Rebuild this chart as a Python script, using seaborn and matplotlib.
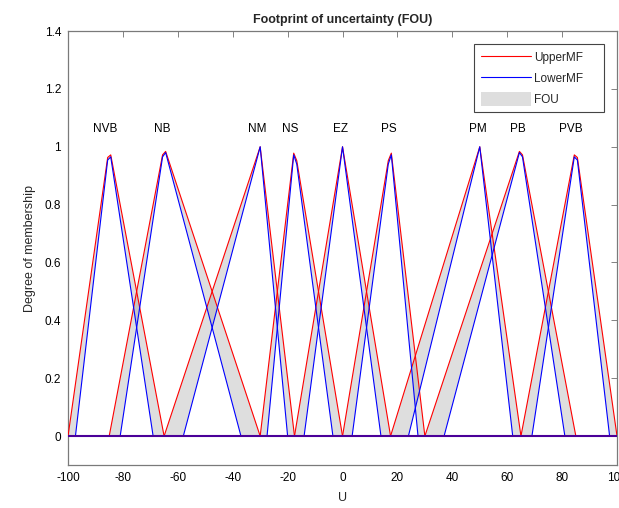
import numpy as np
import pandas as pd
import matplotlib
matplotlib.use("Agg")
import matplotlib.pyplot as plt
import seaborn as sns
from matplotlib.lines import Line2D
from matplotlib.patches import Patch

# ---------------- data ----------------
mf_names = ["NVB", "NB", "NM", "NS", "EZ", "PS", "PM", "PB", "PVB"]

# upper MF: left foot, two top samples, right foot
upper_left = [-100, -85, -65, -30, -17.5, 0, 17.5, 30, 65]
upper_right = [-65, -30, -17.5, 0, 17.5, 30, 65, 85, 100]
top_x_left = [-85.56, -65.56, -30, -17.78, 0, 16.67, 50, 64.44, 84.44]
top_x_right = [-84.44, -64.44, -30, -16.67, 0, 17.78, 50, 65.56, 85.56]
upper_top_y_left = [0.963, 0.972, 1.0, 0.978, 1.0, 0.952, 1.0, 0.984, 0.972]
upper_top_y_right = [0.972, 0.984, 1.0, 0.952, 1.0, 0.978, 1.0, 0.972, 0.963]

# lower MF: left foot, top samples, right foot
lower_left = [-97.3, -81, -58, -27.5, -14, 3.5, 24, 37, 69]
lower_right = [-69, -37, -20, -3.5, 14, 27.5, 62, 81, 97.3]
lower_top_y_left = [0.954, 0.965, 1.0, 0.972, 1.0, 0.940, 1.0, 0.980, 0.965]
lower_top_y_right = [0.965, 0.980, 1.0, 0.940, 1.0, 0.972, 1.0, 0.965, 0.954]

# text labels above the MFs
label_x = [-86.5, -65.7, -31, -19, -0.7, 16.8, 49.3, 63.9, 83.2]
label_y = [1.06] * 9

x_range = [-100, 100]
x_ticks = [-100, -80, -60, -40, -20, 0, 20, 40, 60, 80, 100]
y_ticks = [0, 0.2, 0.4, 0.6, 0.8, 1.0, 1.2, 1.4]
y_tick_labels = ["0", "0.2", "0.4", "0.6", "0.8", "1", "1.2", "1.4"]

# ---------------- build tables ----------------
up_rows, lo_rows = [], []
for i, name in enumerate(mf_names):
    ux = [x_range[0], upper_left[i], top_x_left[i], top_x_right[i], upper_right[i], x_range[1]]
    uy = [0, 0, upper_top_y_left[i], upper_top_y_right[i], 0, 0]
    lx = [x_range[0], lower_left[i], top_x_left[i], top_x_right[i], lower_right[i], x_range[1]]
    ly = [0, 0, lower_top_y_left[i], lower_top_y_right[i], 0, 0]
    for k, (a, b) in enumerate(zip(ux, uy)):
        up_rows.append((name, k, a, b))
    for k, (a, b) in enumerate(zip(lx, ly)):
        lo_rows.append((name, k, a, b))
df_up = pd.DataFrame(up_rows, columns=["mf", "order", "x", "y"])
df_lo = pd.DataFrame(lo_rows, columns=["mf", "order", "x", "y"])

# ---------------- plot ----------------
sns.set_theme(style="white")
plt.rcParams["font.family"] = ["Liberation Sans", "DejaVu Sans"]

fig = plt.figure(figsize=(6.19, 5.08), dpi=100)
ax = fig.add_axes([0.1099, 0.0846, 0.8869, 0.8543])

fou_color = (0.5, 0.5, 0.5)
for name in mf_names:
    u = df_up[df_up.mf == name].iloc[1:5]
    l = df_lo[df_lo.mf == name].iloc[1:5]
    px = list(u.x) + list(l.x)[::-1]
    py = list(u.y) + list(l.y)[::-1]
    ax.fill(px, py, color=fou_color, alpha=0.26, lw=0, zorder=1)

sns.lineplot(data=df_up, x="x", y="y", units="mf", estimator=None, sort=False,
             color="#ff0000", lw=0.8, ax=ax, zorder=3)
sns.lineplot(data=df_lo, x="x", y="y", units="mf", estimator=None, sort=False,
             color="#0000ff", lw=0.8, ax=ax, zorder=4)
ax.axhline(0, color="#4b0098", lw=1.5, zorder=5)

for name, tx, ty in zip(mf_names, label_x, label_y):
    ax.text(tx, ty, name, ha="center", va="center", fontsize=8.5, color="black")

ax.set_xlim(*x_range)
ax.set_ylim(-0.1, 1.4)
ax.set_xticks(x_ticks)
ax.set_xticklabels([str(t) for t in x_ticks])
ax.set_yticks(y_ticks)
ax.set_yticklabels(y_tick_labels)
ax.tick_params(direction="in", top=True, right=True, length=4, width=0.6,
               color="#6e6e6e", labelcolor="black", labelsize=8.5, pad=5)
for s in ax.spines.values():
    s.set_color("#7a7a7a")
    s.set_linewidth(0.9)

ax.set_xlabel("U", fontsize=9, labelpad=6)
ax.set_ylabel("Degree of membership", fontsize=9, labelpad=6)
ax.set_title("Footprint of uncertainty (FOU)", fontsize=9, fontweight="bold", pad=6)

handles = [Line2D([], [], color="#ff0000", lw=0.8),
           Line2D([], [], color="#0000ff", lw=0.8),
           Patch(facecolor="#dedede", edgecolor="none")]
leg = ax.legend(handles, ["UpperMF", "LowerMF", "FOU"], loc="upper left",
                bbox_to_anchor=(0.7395, 0.5, 0.2368, 0.470), mode="expand",
                fontsize=8.5, handlelength=4.3, handleheight=1.36,
                labelspacing=0.62, handletextpad=0.2, borderpad=0.55,
                borderaxespad=0, fancybox=False, framealpha=1)
leg.get_frame().set_edgecolor("#444444")
leg.get_frame().set_linewidth(0.8)

fig.savefig("out.png", dpi=100)
